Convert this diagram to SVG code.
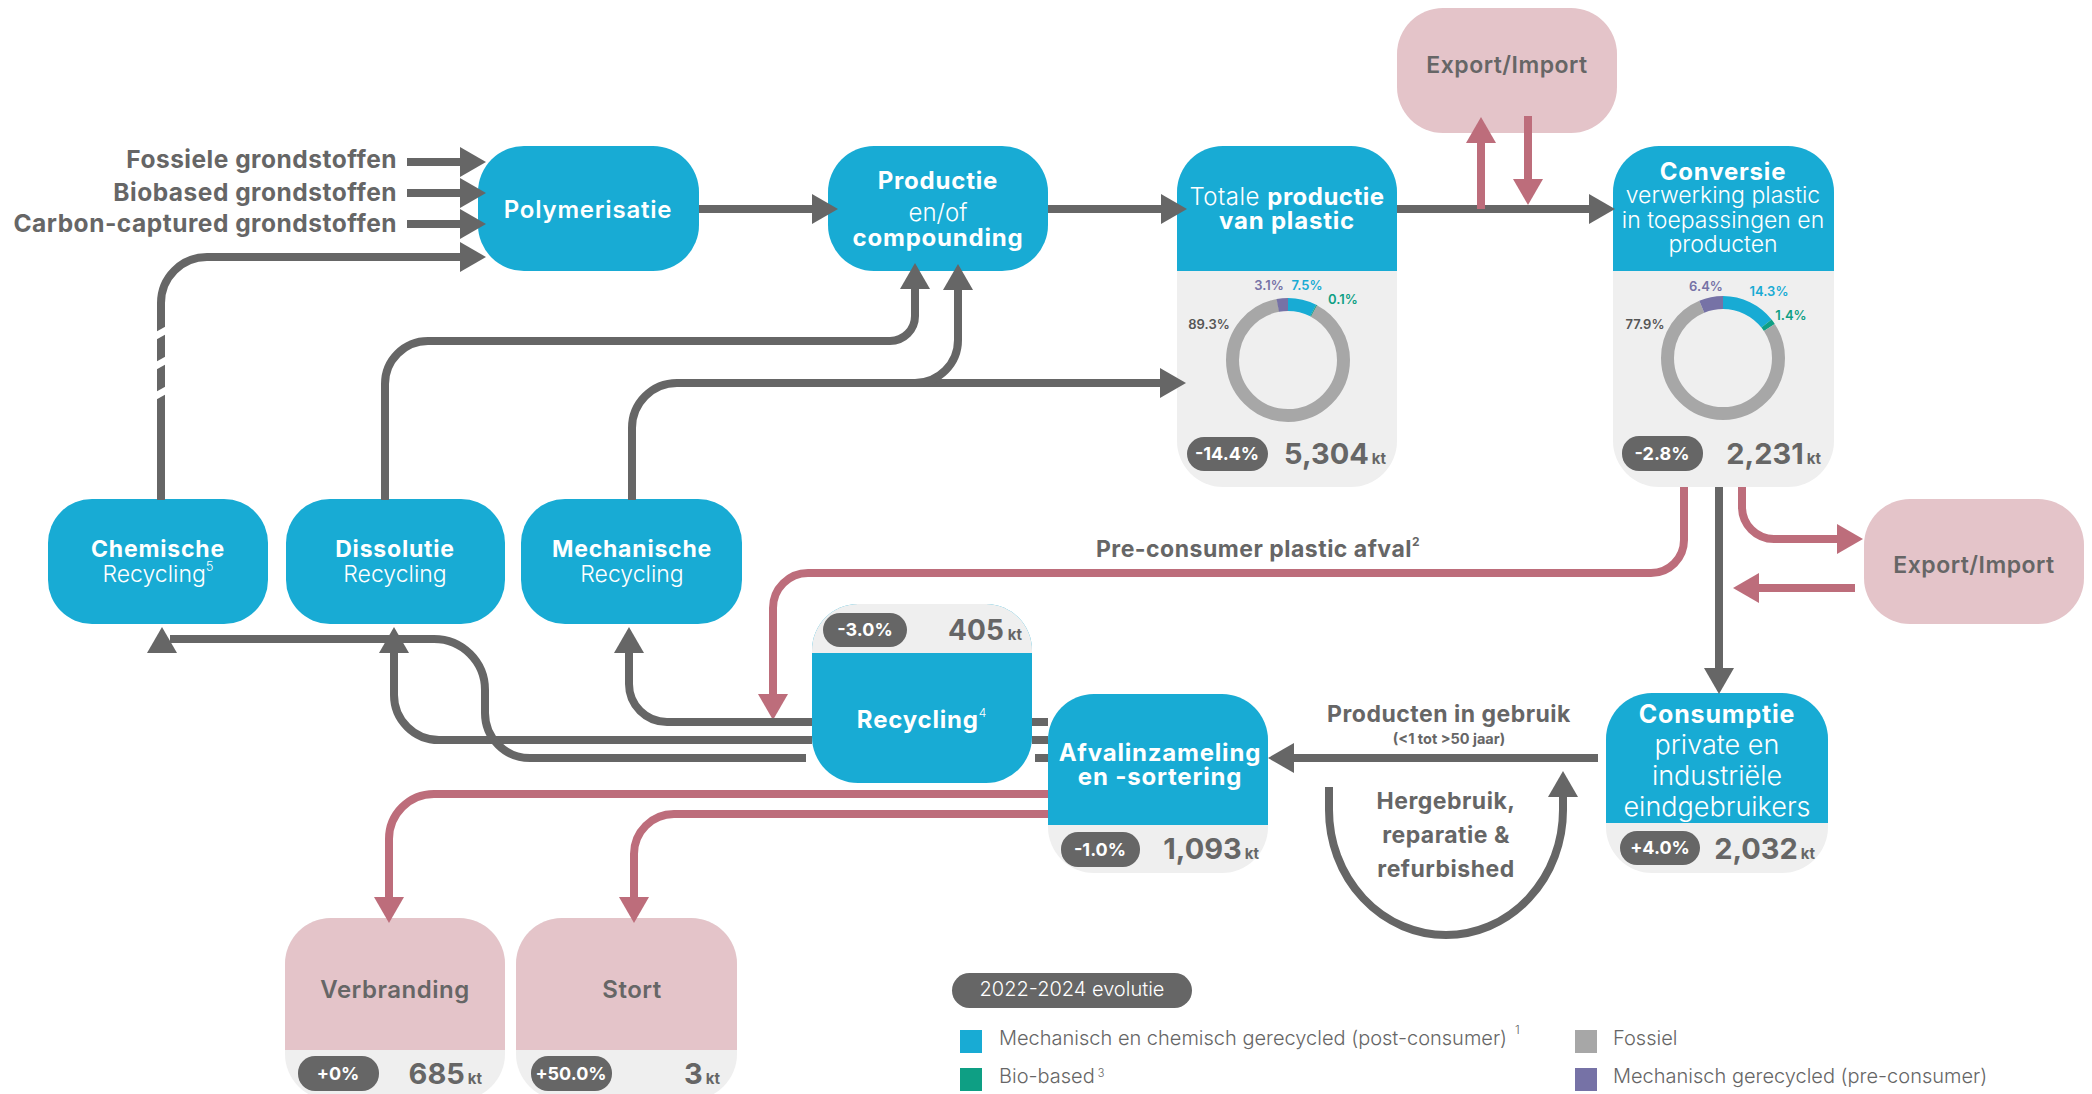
<svg xmlns="http://www.w3.org/2000/svg" width="2092" height="1094" viewBox="0 0 2092 1094">
<defs>
<style>
text{font-family:Inter,'Noto Sans','DejaVu Sans',sans-serif}
.node{fill:#18abd4}
.panel{fill:#efefef}
.pink{fill:#e4c4c9}
.g{fill:none;stroke:#666;stroke-width:8}
.p{fill:none;stroke:#bd6d7b;stroke-width:8}
.wb{fill:#fff;font-weight:700;font-size:24px;text-anchor:middle;letter-spacing:0.8px}
.wl{fill:#fff;font-weight:300;font-size:23px;text-anchor:middle}
.gt{fill:#666;font-weight:700;font-size:23px;letter-spacing:0.5px}
.badge{fill:#666}
.bt{fill:#fff;font-weight:700;font-size:18px;text-anchor:middle}
.num{fill:#666;font-weight:700;font-size:29px;text-anchor:end}
.kt{font-size:15px}
.pct{font-weight:600;font-size:13px;text-anchor:middle}
.leg{fill:#666;font-weight:300;font-size:20px}
</style>
<marker id="ag" markerWidth="26" markerHeight="30" refX="0" refY="15" orient="auto" markerUnits="userSpaceOnUse"><path d="M0,0L26,15L0,30Z" fill="#666"/></marker>
<marker id="ap" markerWidth="26" markerHeight="30" refX="0" refY="15" orient="auto" markerUnits="userSpaceOnUse"><path d="M0,0L26,15L0,30Z" fill="#bd6d7b"/></marker>
</defs>
<rect width="2092" height="1094" fill="#fff"/>

<g id="inputs">
<text class="gt" x="397" y="168" text-anchor="end" style="font-size:24.5px">Fossiele grondstoffen</text>
<text class="gt" x="397" y="201" text-anchor="end" style="font-size:24.5px">Biobased grondstoffen</text>
<text class="gt" x="397" y="232" text-anchor="end" style="font-size:24.5px">Carbon-captured grondstoffen</text>
</g>

<g id="polymerisatie">
<rect class="node" x="478" y="146" width="221" height="125" rx="46"/>
<text class="wb" x="588" y="218" style="font-weight:600">Polymerisatie</text>
</g>

<g id="productie">
<rect class="node" x="828" y="146" width="220" height="125" rx="46"/>
<text class="wb" x="938" y="189">Productie</text>
<text class="wl" x="938" y="221" style="font-size:24px">en/of</text>
<text class="wb" x="938" y="246">compounding</text>
</g>

<g id="totale-productie">
<rect class="panel" x="1177" y="146" width="220" height="341" rx="46"/>
<path class="node" d="M1177,271V192A46,46 0 0 1 1223,146H1351A46,46 0 0 1 1397,192V271Z"/>
<text class="wl" x="1287" y="205" style="font-size:24px;letter-spacing:0.5px">Totale <tspan font-weight="700">productie</tspan></text>
<text class="wb" x="1287" y="229">van plastic</text>
<g fill="none" stroke-width="13" transform="rotate(-90 1288 360)">
<circle cx="1288" cy="360" r="55.5" stroke="#18abd4" stroke-dasharray="26.15 400" stroke-dashoffset="0"/>
<circle cx="1288" cy="360" r="55.5" stroke="#0e9f84" stroke-dasharray="1.2 400" stroke-dashoffset="-26.15"/>
<circle cx="1288" cy="360" r="55.5" stroke="#a7a7a7" stroke-dasharray="311.41 400" stroke-dashoffset="-26.9"/>
<circle cx="1288" cy="360" r="55.5" stroke="#7672a6" stroke-dasharray="10.81 400" stroke-dashoffset="-337.91"/>
</g>
<text class="pct" x="1269" y="290" fill="#7672a6">3.1%</text>
<text class="pct" x="1307" y="290" fill="#18abd4">7.5%</text>
<text class="pct" x="1343" y="304" fill="#0e9f84">0.1%</text>
<text class="pct" x="1209" y="329" fill="#555">89.3%</text>
<rect class="badge" x="1187" y="437" width="81" height="34" rx="17"/>
<text class="bt" x="1227" y="460">-14.4%</text>
<text class="num" x="1386" y="464">5,304<tspan class="kt" dx="3">kt</tspan></text>
</g>

<g id="export-import-top">
<rect class="pink" x="1397" y="8" width="220" height="125" rx="46"/>
<text class="gt" x="1507" y="73" text-anchor="middle" style="font-weight:600">Export/Import</text>
</g>

<g id="conversie">
<rect class="panel" x="1613" y="146" width="221" height="341" rx="46"/>
<path class="node" d="M1613,271V192A46,46 0 0 1 1659,146H1788A46,46 0 0 1 1834,192V271Z"/>
<text class="wb" x="1723" y="180">Conversie</text>
<text class="wl" x="1723" y="203">verwerking plastic</text>
<text class="wl" x="1723" y="228">in toepassingen en</text>
<text class="wl" x="1723" y="252">producten</text>
<g fill="none" stroke-width="13" transform="rotate(-90 1723 358)">
<circle cx="1723" cy="358" r="55.5" stroke="#18abd4" stroke-dasharray="49.87 400" stroke-dashoffset="0"/>
<circle cx="1723" cy="358" r="55.5" stroke="#0e9f84" stroke-dasharray="4.88 400" stroke-dashoffset="-49.87"/>
<circle cx="1723" cy="358" r="55.5" stroke="#a7a7a7" stroke-dasharray="271.65 400" stroke-dashoffset="-54.75"/>
<circle cx="1723" cy="358" r="55.5" stroke="#7672a6" stroke-dasharray="22.32 400" stroke-dashoffset="-326.4"/>
</g>
<text class="pct" x="1706" y="291" fill="#7672a6">6.4%</text>
<text class="pct" x="1769" y="296" fill="#18abd4">14.3%</text>
<text class="pct" x="1791" y="320" fill="#0e9f84">1.4%</text>
<text class="pct" x="1645" y="329" fill="#555">77.9%</text>
<rect class="badge" x="1622" y="436" width="81" height="35" rx="17"/>
<text class="bt" x="1662" y="460">-2.8%</text>
<text class="num" x="1821" y="464">2,231<tspan class="kt" dx="3">kt</tspan></text>
</g>

<g id="export-import-right">
<rect class="pink" x="1864" y="499" width="220" height="125" rx="46"/>
<text class="gt" x="1974" y="573" text-anchor="middle" style="font-weight:600">Export/Import</text>
</g>

<g id="chemische-recycling">
<rect class="node" x="48" y="499" width="220" height="125" rx="44"/>
<text class="wb" x="158" y="557" style="font-size:23px">Chemische</text>
<text class="wl" x="158" y="582">Recycling<tspan font-size="13" dy="-11">5</tspan></text>
</g>

<g id="dissolutie-recycling">
<rect class="node" x="286" y="499" width="219" height="125" rx="44"/>
<text class="wb" x="395" y="557" style="font-size:23px">Dissolutie</text>
<text class="wl" x="395" y="582">Recycling</text>
</g>

<g id="mechanische-recycling">
<rect class="node" x="521" y="499" width="221" height="125" rx="44"/>
<text class="wb" x="632" y="557" style="font-size:23px">Mechanische</text>
<text class="wl" x="632" y="582">Recycling</text>
</g>

<g id="recycling">
<rect class="node" x="812" y="604" width="220" height="179" rx="46"/>
<path class="panel" d="M812,653V650A46,46 0 0 1 858,604H986A46,46 0 0 1 1032,650V653Z"/>
<rect class="badge" x="823" y="613" width="84" height="34" rx="17"/>
<text class="bt" x="865" y="636">-3.0%</text>
<text class="num" x="1022" y="640" style="font-size:28px">405<tspan class="kt" dx="4">kt</tspan></text>
<text class="wb" x="922" y="728">Recycling<tspan font-size="12" font-weight="300" dy="-11">4</tspan></text>
</g>

<g id="afvalinzameling">
<rect class="panel" x="1048" y="694" width="220" height="179" rx="46"/>
<path class="node" d="M1048,825V740A46,46 0 0 1 1094,694H1222A46,46 0 0 1 1268,740V825Z"/>
<text class="wb" x="1160" y="761">Afvalinzameling</text>
<text class="wb" x="1160" y="785">en -sortering</text>
<rect class="badge" x="1061" y="832" width="79" height="35" rx="17"/>
<text class="bt" x="1100" y="856">-1.0%</text>
<text class="num" x="1259" y="859">1,093<tspan class="kt" dx="3">kt</tspan></text>
</g>

<g id="consumptie">
<rect class="panel" x="1606" y="693" width="222" height="180" rx="46"/>
<path class="node" d="M1606,823V739A46,46 0 0 1 1652,693H1782A46,46 0 0 1 1828,739V823Z"/>
<text class="wb" x="1717" y="723" style="font-size:25px">Consumptie</text>
<text class="wl" x="1717" y="754" style="font-size:27px">private en</text>
<text class="wl" x="1717" y="785" style="font-size:27px">industriële</text>
<text class="wl" x="1717" y="816" style="font-size:27px">eindgebruikers</text>
<rect class="badge" x="1620" y="831" width="80" height="34" rx="17"/>
<text class="bt" x="1660" y="854">+4.0%</text>
<text class="num" x="1815" y="859">2,032<tspan class="kt" dx="3">kt</tspan></text>
</g>

<g id="verbranding">
<rect class="panel" x="285" y="918" width="220" height="182" rx="46"/>
<path class="pink" d="M285,1050V964A46,46 0 0 1 331,918H459A46,46 0 0 1 505,964V1050Z"/>
<text class="gt" x="395" y="998" text-anchor="middle" style="font-weight:600;font-size:24px">Verbranding</text>
<rect class="badge" x="298" y="1056" width="81" height="35" rx="17"/>
<text class="bt" x="338" y="1080">+0%</text>
<text class="num" x="482" y="1084">685<tspan class="kt" dx="3">kt</tspan></text>
</g>

<g id="stort">
<rect class="panel" x="516" y="918" width="221" height="182" rx="46"/>
<path class="pink" d="M516,1050V964A46,46 0 0 1 562,918H691A46,46 0 0 1 737,964V1050Z"/>
<text class="gt" x="632" y="998" text-anchor="middle" style="font-weight:600;font-size:24px">Stort</text>
<rect class="badge" x="531" y="1056" width="81" height="35" rx="17"/>
<text class="bt" x="571" y="1080">+50.0%</text>
<text class="num" x="720" y="1084">3<tspan class="kt" dx="3">kt</tspan></text>
</g>

<g id="connectors">
<path class="g" d="M407,162H460" marker-end="url(#ag)"/>
<path class="g" d="M407,193H460" marker-end="url(#ag)"/>
<path class="g" d="M407,224H460" marker-end="url(#ag)"/>
<path class="g" d="M161,500V303A46,46 0 0 1 207,257H460" marker-end="url(#ag)"/>
<g stroke="#fff" stroke-width="7">
<path d="M152,338L170,328"/><path d="M152,368L170,358"/><path d="M152,398L170,388"/>
</g>
<path class="g" d="M699,209H812" marker-end="url(#ag)"/>
<path class="g" d="M1048,209H1161" marker-end="url(#ag)"/>
<path class="g" d="M1397,209H1589" marker-end="url(#ag)"/>
<path class="p" d="M1481,209V143" marker-end="url(#ap)"/>
<path class="p" d="M1528,116V179" marker-end="url(#ap)"/>
<path class="g" d="M385,500V384A43,43 0 0 1 428,341H890A25,25 0 0 0 915,316V289" marker-end="url(#ag)"/>
<path class="g" d="M632,500V428A45,45 0 0 1 677,383H1160" marker-end="url(#ag)"/>
<path class="g" d="M915,383A43,43 0 0 0 958,340V290" marker-end="url(#ag)"/>
<path class="g" d="M1719,487V668" marker-end="url(#ag)"/>
<path class="p" d="M1684,487V540A33,33 0 0 1 1651,573H808A35,35 0 0 0 773,608V694" marker-end="url(#ap)"/>
<text class="gt" x="1258" y="557" text-anchor="middle">Pre-consumer plastic afval<tspan font-size="12" dy="-11">2</tspan></text>
<path class="p" d="M1742,487V507A32,32 0 0 0 1774,539H1837" marker-end="url(#ap)"/>
<path class="p" d="M1855,588H1759" marker-end="url(#ap)"/>
<path class="g" d="M1598,758H1294" marker-end="url(#ag)"/>
<text class="gt" x="1449" y="722" text-anchor="middle">Producten in gebruik</text>
<text class="gt" x="1449" y="744" text-anchor="middle" style="font-size:14.5px;letter-spacing:0">(&lt;1 tot &gt;50 jaar)</text>
<path class="g" d="M1329,787V810A117,125 0 0 0 1563,810V797" marker-end="url(#ag)"/>
<text class="gt" x="1446" y="809" text-anchor="middle">Hergebruik,</text>
<text class="gt" x="1446" y="843" text-anchor="middle">reparatie &amp;</text>
<text class="gt" x="1446" y="877" text-anchor="middle">refurbished</text>
<path class="g" d="M812,722H667A38,38 0 0 1 629,684V653" marker-end="url(#ag)"/>
<path class="g" d="M812,740H439A45,45 0 0 1 394,695V653" marker-end="url(#ag)"/>
<path class="g" d="M806,758H530A45,45 0 0 1 485,713V690A51,51 0 0 0 434,639H170"/>
<polygon points="162,627 177,653 147,653" fill="#666"/>
<path class="g" d="M1032,722H1048M1032,740H1048M1035,758H1048"/>
<path class="p" d="M1048,794H434A45,45 0 0 0 389,839V897" marker-end="url(#ap)"/>
<path class="p" d="M1048,814H674A40,40 0 0 0 634,854V897" marker-end="url(#ap)"/>
</g>

<g id="legend">
<rect class="badge" x="952" y="973" width="240" height="35" rx="17.5"/>
<text x="1072" y="996" fill="#fff" font-weight="300" font-size="20" text-anchor="middle">2022-2024 evolutie</text>
<rect x="960" y="1030" width="22" height="23" fill="#18abd4"/>
<rect x="960" y="1068" width="22" height="23" fill="#0e9f84"/>
<rect x="1575" y="1030" width="22" height="23" fill="#a7a7a7"/>
<rect x="1575" y="1068" width="22" height="23" fill="#7672a6"/>
<text class="leg" x="999" y="1045">Mechanisch en chemisch gerecycled (post-consumer)<tspan font-size="12" dx="8" dy="-11">1</tspan></text>
<text class="leg" x="999" y="1083">Bio-based<tspan font-size="11" dx="3" dy="-6">3</tspan></text>
<text class="leg" x="1613" y="1045">Fossiel</text>
<text class="leg" x="1613" y="1083">Mechanisch gerecycled (pre-consumer)</text>
</g>
</svg>
